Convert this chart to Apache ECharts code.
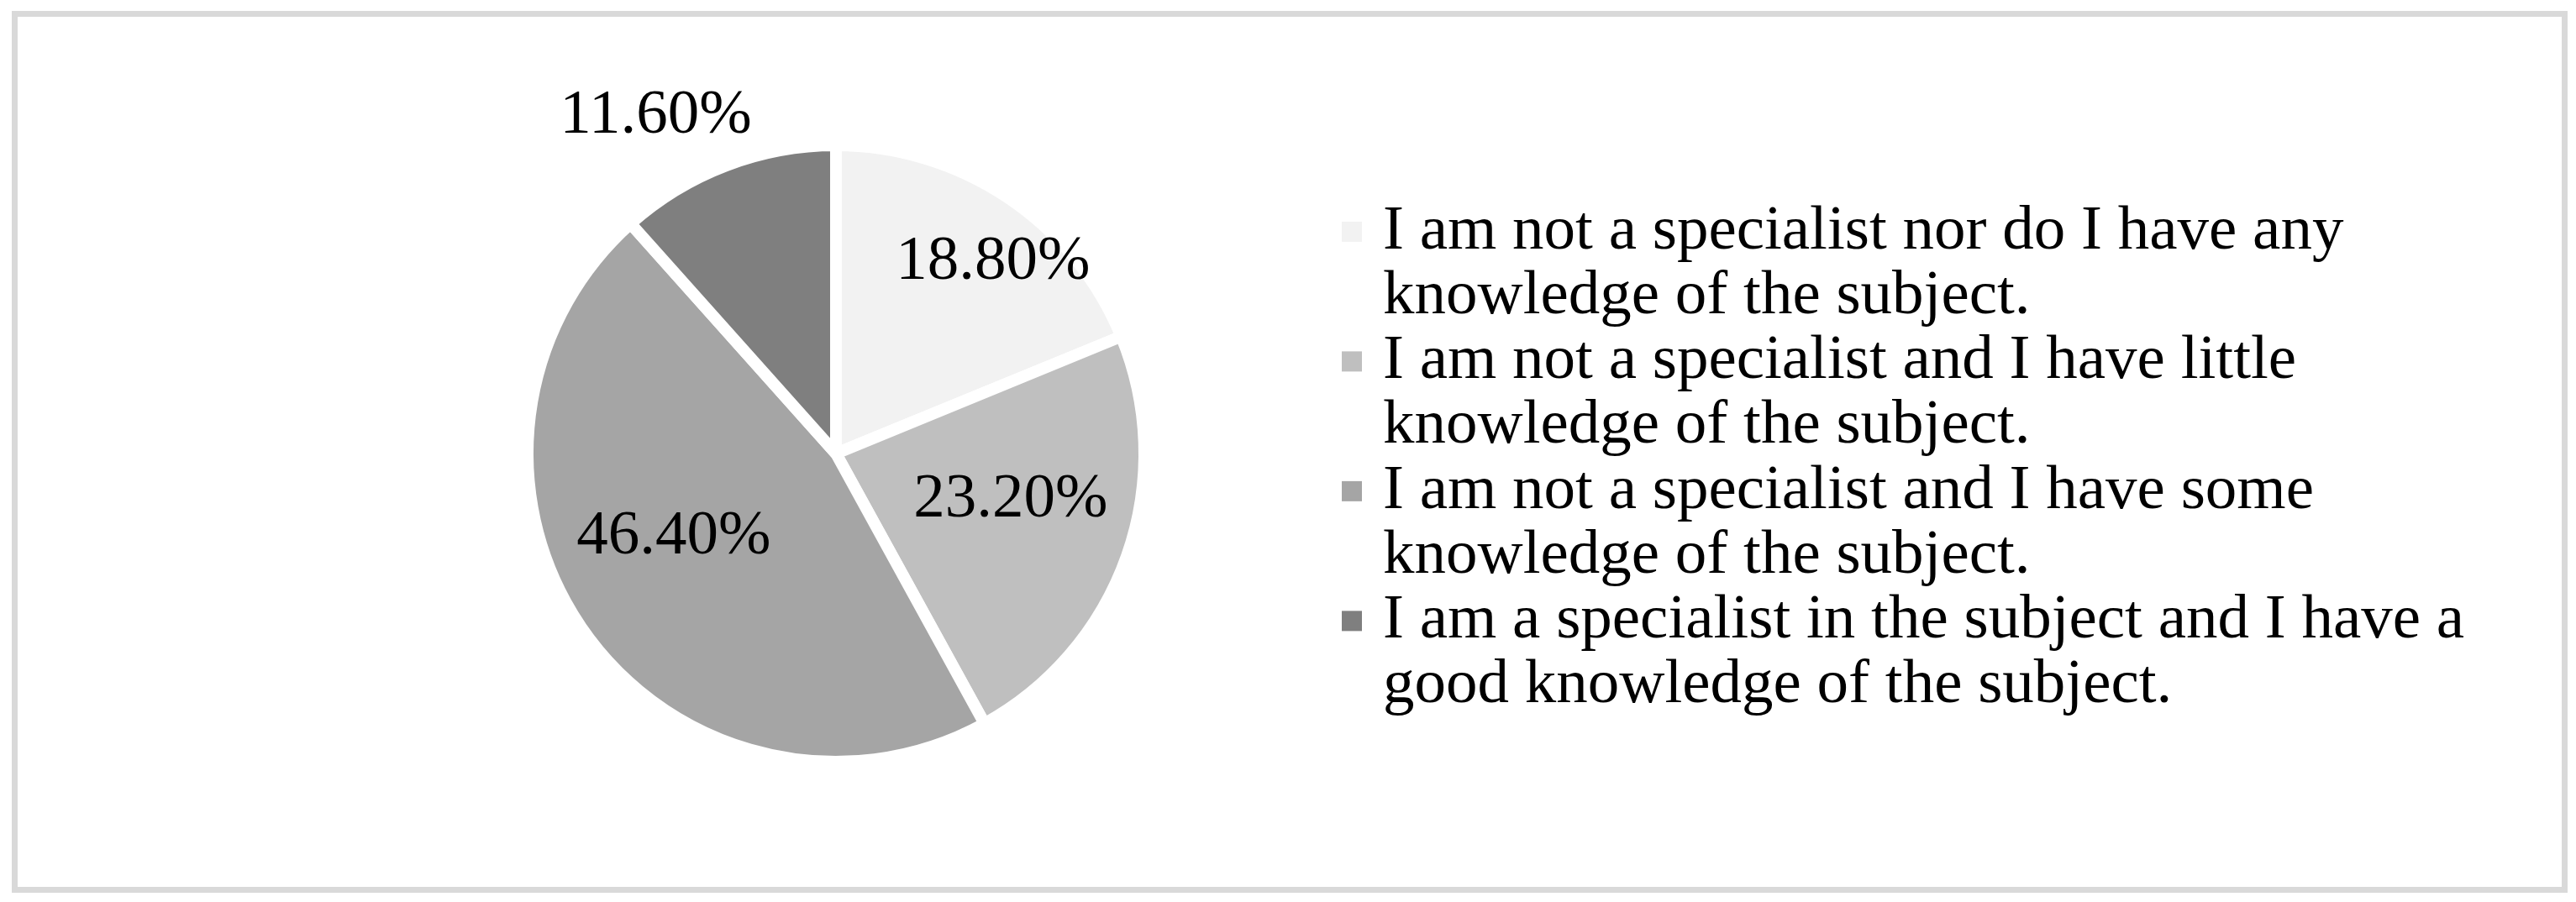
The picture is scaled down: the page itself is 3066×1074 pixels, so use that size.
<!DOCTYPE html>
<html>
<head>
<meta charset="utf-8">
<script src="https://cdn.jsdelivr.net/npm/echarts@6/dist/echarts.min.js"></script>
<style>
  html, body { margin: 0; padding: 0; background: #fff; }
  #chart { width: 3066px; height: 1074px; }
</style>
</head>
<body>
<div id="chart"></div>
<script>
const categories = [
  'I am not a specialist nor do I have any knowledge of the subject.',
  'I am not a specialist and I have little knowledge of the subject.',
  'I am not a specialist and I have some knowledge of the subject.',
  'I am a specialist in the subject and I have a good knowledge of the subject.'
]
const shares = [18.8, 23.2, 46.4, 11.6]

const sliceColors = ['#f2f2f2', '#bfbfbf', '#a5a5a5', '#7f7f7f']
// nudges from the default inside label spot, per slice
const labelOffsets = [[83, -73], [32, -7], [-41, -8], [-148, -227]]

const font = "'Liberation Serif', 'Times New Roman', serif"
const legendLine = 77.25

const chart = echarts.init(document.getElementById('chart'))

chart.setOption({
  backgroundColor: '#fff',
  animation: false,
  graphic: [{
    type: 'rect',
    shape: { x: 17.5, y: 16.5, width: 3035, height: 1043 },
    style: { fill: 'none', stroke: '#d9d9d9', lineWidth: 7 },
    silent: true
  }],
  legend: {
    orient: 'vertical',
    left: 1597,
    top: 160,
    padding: 0,
    itemWidth: 64,
    itemHeight: 24,
    // blank first line keeps the marker level with the first text line
    itemGap: -legendLine,
    icon: 'path://M0,0H10V10H0Z',
    selectedMode: false,
    itemStyle: { borderWidth: 0 },
    formatter: name => '\n' + name,
    textStyle: {
      fontFamily: font,
      fontSize: 75,
      color: '#000',
      lineHeight: legendLine,
      width: 1345,
      overflow: 'break'
    },
    data: categories
  },
  series: [{
    type: 'pie',
    center: [995, 540],
    radius: 367,
    startAngle: 90,
    clockwise: true,
    avoidLabelOverlap: false,
    emphasis: { disabled: true },
    itemStyle: { borderColor: '#fff', borderWidth: 14, borderJoin: 'round' },
    label: {
      show: true,
      position: 'inside',
      fontFamily: font,
      fontSize: 75,
      color: '#000',
      formatter: p => p.value.toFixed(2) + '%'
    },
    labelLine: { show: false },
    labelLayout: p => ({ dx: labelOffsets[p.dataIndex][0], dy: labelOffsets[p.dataIndex][1] }),
    data: categories.map((name, i) => ({
      name,
      value: shares[i],
      itemStyle: { color: sliceColors[i] }
    }))
  }]
})
</script>
</body>
</html>
